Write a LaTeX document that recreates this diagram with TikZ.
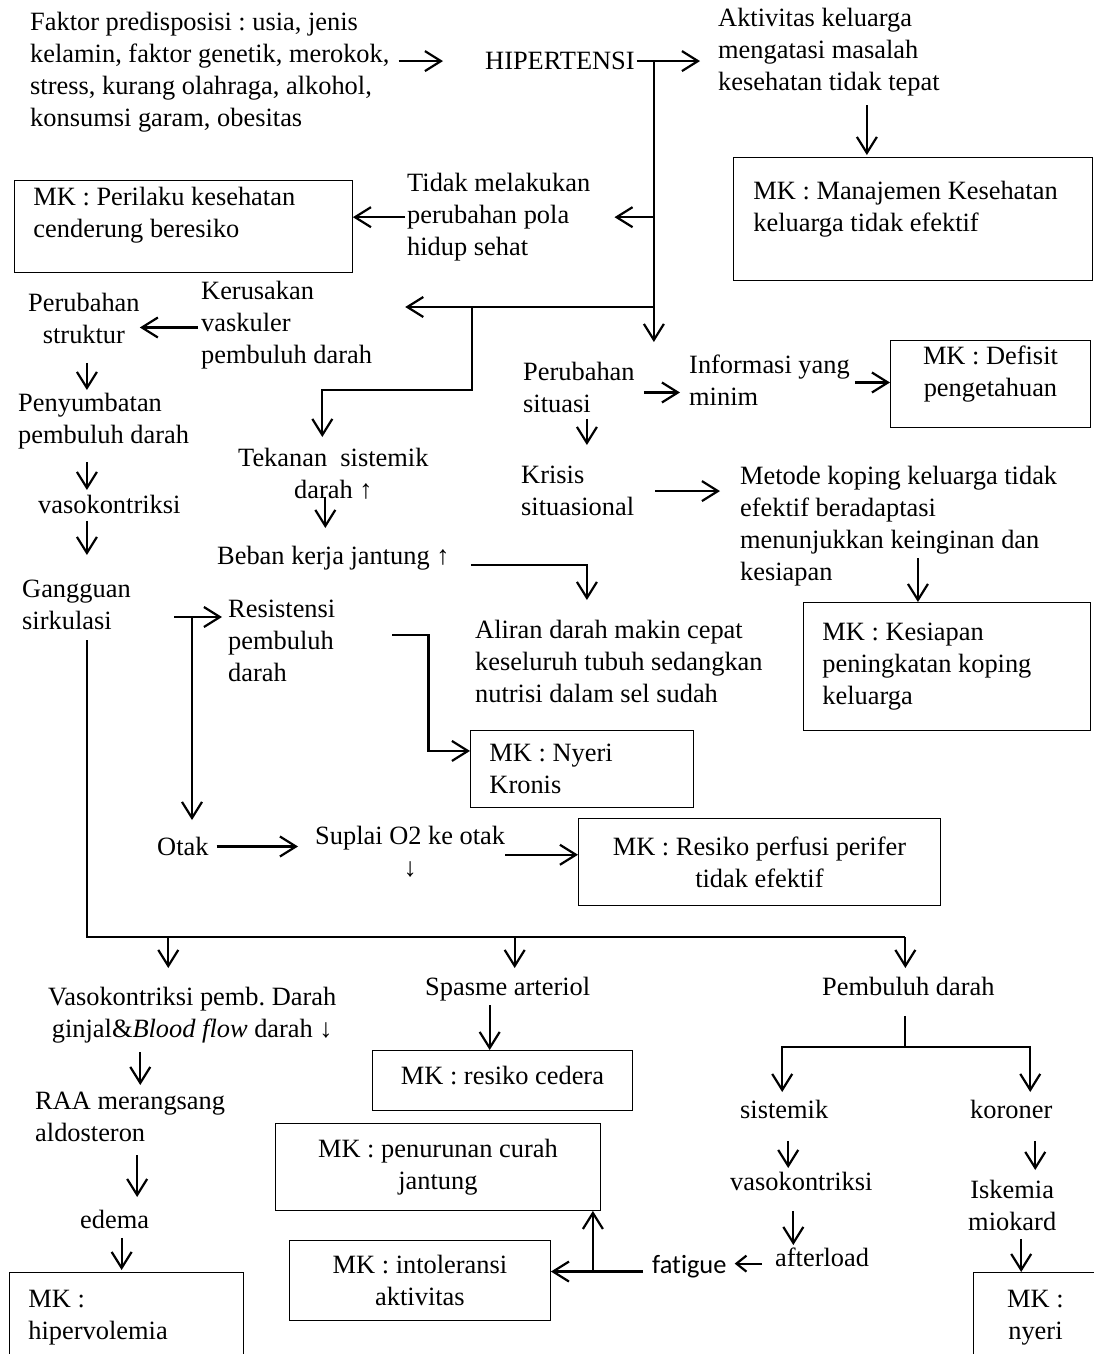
\documentclass[tikz,border=0pt]{standalone}
\usepackage{fontspec}
\setmainfont[Ligatures=NoCommon]{Liberation Serif}
\newfontfamily\calibrifont[Ligatures=NoCommon]{Carlito}
\frenchspacing
\usetikzlibrary{arrows.meta, calc}
\tikzstyle{txt} = [inner sep=0pt, anchor=north west, align=left, font=\fontsize{26.4}{32}\selectfont]
\tikzstyle{ctxt} = [txt, align=center]
\tikzstyle{mkbox} = [rectangle, draw, line width=0.9pt, anchor=north west, inner sep=0pt, font=\fontsize{26.4}{32}\selectfont]
\tikzstyle{lmkbox} = [mkbox, align=flush left]
\tikzstyle{cmkbox} = [mkbox, align=center]
\tikzstyle{link} = [draw, line width=2.2pt]
\tikzstyle{arrow} = [link, -{Straight Barb[length=16pt, width=20pt]}]
\tikzstyle{smallarrow} = [link, -{Straight Barb[length=10pt, width=16pt]}]

\begin{document}
\begin{tikzpicture}[x=1pt, y=-1pt]
    \useasboundingbox[fill=white] (0,0) rectangle (1093,1354);

    % top row
    \node[txt] at (30,12) (faktor) {Faktor predisposisi : usia, jenis\\kelamin, faktor genetik, merokok,\\stress, kurang olahraga, alkohol,\\konsumsi garam, obesitas};
    \node[txt] at (485,52) (hiper) {HIPERTENSI};
    \node[txt] at (718,8) (aktiv) {Aktivitas keluarga\\mengatasi masalah\\kesehatan tidak tepat};
    \node[lmkbox, minimum width=359, minimum height=123, text width=319pt, text depth=58pt] at (733,157) (mkmanaj) {MK : Manajemen Kesehatan\\keluarga tidak efektif};
    \node[txt] at (407,173) (tidak) {Tidak melakukan\\perubahan pola\\hidup sehat};
    \node[lmkbox, minimum width=338, minimum height=92, text width=300pt, text depth=60pt] at (14,180) (mkperil) {MK : Perilaku kesehatan\\cenderung beresiko};

    % left column
    \node[txt] at (201,281) (kerus) {Kerusakan\\vaskuler\\pembuluh darah};
    \node[ctxt] at (28,293) (perstr) {Perubahan\\struktur};
    \node[txt] at (18,393) (penyumb) {Penyumbatan\\pembuluh darah};
    \node[txt] at (38,495) (vaso1) {vasokontriksi};
    \node[txt] at (22,580) (ganggu) {Gangguan\\sirkulasi};
    \node[ctxt] at (238,448) (tekanan) {Tekanan~ sistemik\\darah ↑};
    \node[txt] at (217,546) (beban) {Beban kerja jantung ↑};

    % right column
    \node[txt] at (523,362) (persit) {Perubahan\\situasi};
    \node[txt] at (689,355) (info) {Informasi yang\\minim};
    \node[cmkbox, minimum width=200, minimum height=87, text depth=26pt] at (890,340) (mkdefisit) {MK : Defisit\\pengetahuan};
    \node[txt] at (521,466) (krisis) {Krisis\\situasional};
    \node[txt] at (740,466) (metode) {Metode koping keluarga tidak\\efektif beradaptasi\\menunjukkan keinginan dan\\kesiapan};
    \node[lmkbox, minimum width=287, minimum height=128, text width=249pt] at (803,602) (mkkesiap) {MK : Kesiapan\\peningkatan koping\\keluarga};
    \node[txt] at (475,620) (aliran) {Aliran darah makin cepat\\keseluruh tubuh sedangkan\\nutrisi dalam sel sudah};

    % sirkulasi
    \node[txt] at (228,600) (resist) {Resistensi\\pembuluh\\darah};
    \node[lmkbox, minimum width=223, minimum height=77, text width=185pt] at (470,730) (mknyeri) {MK : Nyeri\\Kronis};
    \node[txt] at (157,837) (otak) {Otak};
    \node[ctxt] at (315,826) (suplai) {Suplai O2 ke otak\\↓};
    \node[cmkbox, minimum width=362, minimum height=87] at (578,818) (mkresiko) {MK : Resiko perfusi perifer\\tidak efektif};

    % bottom
    \node[ctxt] at (48,987) (vaso2) {Vasokontriksi pemb. Darah\\ginjal\&\textit{Blood flow} darah ↓};
    \node[txt] at (35,1092) (raa) {RAA merangsang\\aldosteron};
    \node[txt] at (80,1210) (edema) {edema};
    \node[lmkbox, minimum width=234, minimum height=90, text width=196pt] at (9,1272) (mkhiper) {MK :\\hipervolemia};
    \node[txt] at (425,977) (spasme) {Spasme arteriol};
    \node[cmkbox, minimum width=260, minimum height=60, text depth=10pt] at (372,1050) (mkcedera) {MK : resiko cedera};
    \node[cmkbox, minimum width=325, minimum height=87] at (275,1123) (mkcurah) {MK : penurunan curah\\jantung};
    \node[cmkbox, minimum width=261, minimum height=80] at (289,1240) (mkintol) {MK : intoleransi\\aktivitas};
    \node[txt] at (822,977) (pemb) {Pembuluh darah};
    \node[txt] at (740,1100) (sistemik) {sistemik};
    \node[txt] at (730,1172) (vaso3) {vasokontriksi};
    \node[txt] at (775,1248) (afterload) {afterload};
    \node[txt, font=\calibrifont\fontsize{26.4}{32}\selectfont] at (652,1255) (fatigue) {fatigue};
    \node[txt] at (970,1100) (koroner) {koroner};
    \node[ctxt] at (968,1180) (iskemia) {Iskemia\\miokard};
    \node[cmkbox, minimum width=124, minimum height=90] at (973,1272) (mknyeri2) {MK :\\nyeri};

    % hipertensi trunk
    \coordinate (hj) at ($(hiper.east)+(19,0)$);
    \draw[arrow] ($(faktor.east |- hiper.west)+(9,0)$) -- ($(hiper.west)+(-42,0)$);
    \draw[arrow] ($(hiper.east)+(2,0)$) -- ($(aktiv.west |- hiper.east)+(-18,0)$);
    \draw[arrow] (hj) -- ($(hj |- persit.north)+(0,-20)$);
    \draw[arrow] ($(aktiv.south)+(38,9)$) -- ($(aktiv.south |- mkmanaj.north)+(38,-2)$);
    \draw[arrow] (hj |- tidak.east) -- ($(tidak.east)+(24,0)$);
    \draw[arrow] ($(tidak.west)+(-2,0)$) -- (tidak.west -| mkperil.east);
    \coordinate (kj) at ($(hj |- kerus.north)+(0,26)$);
    \draw[arrow] (kj) -- ($(kerus.east |- kj)+(33,0)$);
    \coordinate (tj) at ($(kj)+(-182,0)$);
    \draw[arrow] (tj) -- ++(0,83) -| ($(tekanan.north)+(-11,-11)$);

    % left column
    \draw[arrow] ($(kerus.west |- perstr.east)+(-3,9)$) -- ($(perstr.east)+(0,9)$);
    \draw[arrow] ($(perstr.south)+(3,19)$) -- ($(perstr.south |- penyumb.north)+(3,-3)$);
    \draw[arrow] ($(perstr.south |- penyumb.south)+(3,13)$) -- ($(perstr.south |- vaso1.north)+(3,-5)$);
    \draw[arrow] ($(perstr.south |- vaso1.south)+(3,7)$) -- ($(perstr.south |- ganggu.north)+(3,-25)$);
    \coordinate (gj) at ($(perstr.south |- ganggu.south)+(3,10)$);
    \coordinate (bj) at ($(gj |- spasme.north)+(0,-40)$);
    \draw[link] (gj) |- ($(pemb.north |- bj)+(-3,0)$);
    \draw[arrow] ($(vaso2.north |- bj)+(-24,0)$) -- ($(vaso2.north)+(-24,-19)$);
    \draw[arrow] ($(spasme.north |- bj)+(7,0)$) -- ($(spasme.north)+(7,-9)$);
    \draw[arrow] ($(pemb.north |- bj)+(-3,0)$) -- ($(pemb.north)+(-3,-9)$);

    % middle column
    \draw[arrow] ($(tekanan.south)+(-8,-3)$) -- ($(tekanan.south |- beban.north)+(-8,-18)$);
    \draw[arrow] ($(beban.east)+(21,7)$) -| ($(persit.south |- aliran.north)+(8,-20)$);
    \draw[arrow] ($(persit.south)+(8,6)$) -- ($(persit.south |- krisis.north)+(8,-21)$);
    \draw[arrow] ($(persit.east)+(9,5)$) -- ($(info.west |- persit.east)+(-9,5)$);
    \draw[arrow] ($(info.east)+(5,2)$) -- ($(info.east -| mkdefisit.west)+(0,2)$);
    \draw[arrow] ($(krisis.east)+(21,0)$) -- ($(metode.west |- krisis.east)+(-20,0)$);
    \draw[arrow] ($(mkkesiap.north)+(-29,-44)$) -- ($(mkkesiap.north)+(-29,0)$);

    % gangguan sirkulasi
    \coordinate (rj) at ($(resist.north west)+(-36,17)$);
    \draw[arrow] ($(rj)+(-18,0)$) -- ($(rj -| resist.west)+(-6,0)$);
    \draw[arrow] (rj) -- ($(rj |- otak.north)+(0,-17)$);
    \coordinate (nj) at ($(resist.north east)+(93,35)$);
    \draw[arrow] ($(nj)+(-36,0)$) -- (nj) |- ($(mknyeri.west)+(0,-18)$);
    \draw[arrow] ($(otak.east)+(8,0)$) -- ($(suplai.west |- otak.east)+(-17,0)$);
    \draw[arrow] ($(suplai.east)+(0,3)$) -- ($(mkresiko.west |- suplai.east)+(0,3)$);

    % bottom branches
    \draw[arrow] ($(vaso2.south)+(-52,9)$) -- ($(vaso2.south |- raa.north)+(-52,-7)$);
    \draw[arrow] ($(raa.south)+(7,13)$) -- ($(raa.south |- edema.north)+(7,-13)$);
    \draw[arrow] ($(edema.south)+(7,9)$) -- ($(edema.south |- mkhiper.north)+(7,-2)$);
    \draw[arrow] ($(spasme.south)+(-18,4)$) -- ($(spasme.south |- mkcedera.north)+(-18,0)$);
    \coordinate (pj) at ($(pemb.south)+(-3,51)$);
    \draw[link] ($(pemb.south)+(-3,20)$) -- (pj);
    \draw[arrow] (pj) -| ($(sistemik.north)+(-2,-8)$);
    \draw[arrow] (pj) -| ($(koroner.north)+(19,-8)$);
    \draw[arrow] ($(sistemik.south)+(4,22)$) -- ($(sistemik.south |- vaso3.north)+(4,-4)$);
    \draw[arrow] ($(vaso3.south)+(-8,20)$) -- ($(vaso3.south |- afterload.north)+(-8,-3)$);
    \draw[smallarrow] ($(afterload.west)+(-13,6)$) -- ($(fatigue.east |- afterload.west)+(8,6)$);
    \draw[arrow] ($(fatigue.west)+(-9,5)$) -- ($(mkintol.east |- fatigue.west)+(0,5)$);
    \draw[arrow] ($(mkcurah.south east |- fatigue.west)+(-8,5)$) -- ($(mkcurah.south east)+(-8,0)$);
    \draw[arrow] ($(koroner.south)+(24,22)$) -- ($(koroner.south |- iskemia.north)+(24,-10)$);
    \draw[arrow] ($(iskemia.south)+(9,8)$) -- ($(iskemia.south |- mknyeri2.north)+(9,0)$);
\end{tikzpicture}
\end{document}
